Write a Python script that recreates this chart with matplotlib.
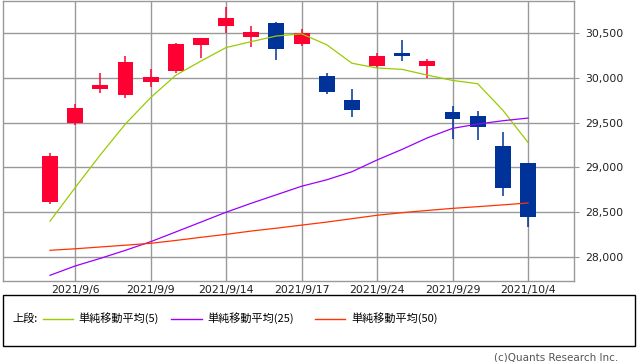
import matplotlib
matplotlib.use("Agg")
import matplotlib.pyplot as plt
from matplotlib.lines import Line2D
from matplotlib.patches import Rectangle

plt.rcParams["font.family"] = ["DejaVu Sans", "Noto Sans CJK JP"]

# daily candles (Nikkei 225)
dates = ["2021/9/3", "2021/9/6", "2021/9/7", "2021/9/8", "2021/9/9", "2021/9/10",
         "2021/9/13", "2021/9/14", "2021/9/15", "2021/9/16", "2021/9/17",
         "2021/9/21", "2021/9/22", "2021/9/24", "2021/9/27", "2021/9/28",
         "2021/9/29", "2021/9/30", "2021/10/1", "2021/10/4"]
opens = [28610, 29500, 29880, 29808, 29957, 30079, 30370, 30581, 30459, 30612,
         30381, 30020, 29752, 30135, 30280, 30135, 29618, 29574, 29239, 29049]
highs = [29160, 29705, 30055, 30247, 30098, 30388, 30450, 30796, 30578, 30623,
         30545, 30054, 29875, 30273, 30422, 30210, 29685, 29630, 29392, 29049]
lows = [28596, 29468, 29836, 29775, 29897, 30057, 30225, 30500, 30347, 30202,
        30358, 29819, 29563, 30106, 30188, 29998, 29320, 29306, 28680, 28335]
closes = [29128, 29660, 29916, 30181, 30008, 30382, 30447, 30670, 30512, 30323,
          30500, 29840, 29639, 30249, 30240, 30184, 29544, 29453, 28771, 28445]

sma5 = [28400, 28774, 29140, 29486, 29779, 30029, 30187, 30338, 30404, 30467,
        30491, 30369, 30163, 30110, 30094, 30030, 29971, 29934, 29638, 29279]
sma25 = [27796, 27900, 27985, 28075, 28171, 28280, 28390, 28500, 28600, 28695,
         28790, 28862, 28952, 29083, 29202, 29330, 29436, 29484, 29521, 29551]
sma50 = [28075, 28092, 28112, 28132, 28153, 28185, 28220, 28253, 28290, 28322,
         28356, 28390, 28428, 28466, 28495, 28520, 28543, 28562, 28582, 28603]

tick_dates = ["2021/9/6", "2021/9/9", "2021/9/14", "2021/9/17", "2021/9/24",
              "2021/9/29", "2021/10/4"]
y_ticks = [28000, 28500, 29000, 29500, 30000, 30500]

ma_labels = ["単純移動平均(5)", "単純移動平均(25)", "単純移動平均(50)"]
ma_colors = ["#99cc00", "#9900ff", "#ff3300"]

W, H = 638, 362


def fx(px):
    return px / W


def fy(py):
    return 1 - py / H


fig = plt.figure(figsize=(W / 100, H / 100), dpi=100)
ax = fig.add_axes([fx(3.3), fy(280.5), fx(574.3 - 3.3), (280.5 - 0.5) / H])

grid_c = "#999999"
x = list(range(len(dates)))
tick_pos = [dates.index(d) for d in tick_dates]
for p in tick_pos:
    ax.axvline(p, color=grid_c, lw=1, zorder=0)
for v in y_ticks:
    ax.axhline(v, color=grid_c, lw=1, zorder=0)

up_c, down_c = "#ff0033", "#003399"
cols = [up_c if c >= o else down_c for o, c in zip(opens, closes)]
ax.vlines(x, lows, highs, colors=cols, lw=1.1, zorder=2)
ax.bar(x, [abs(c - o) for o, c in zip(opens, closes)],
       bottom=[min(o, c) for o, c in zip(opens, closes)],
       width=0.63, color=cols, zorder=3, linewidth=0)

for vals, col in zip([sma5, sma25, sma50], ma_colors):
    ax.plot(x, vals, color=col, lw=0.9, zorder=4)

ax.set_xlim(-1.856, 20.84)
ax.set_ylim(27738, 30863)
ax.set_xticks(tick_pos)
ax.set_xticklabels(tick_dates)
ax.set_yticks(y_ticks)
ax.set_yticklabels([f"{v:,}" for v in y_ticks])
ax.yaxis.tick_right()
ax.tick_params(axis="y", length=3.6, color=grid_c, width=0.8, pad=4,
               labelsize=7.8, labelcolor="#222222")
ax.tick_params(axis="x", length=0, pad=3.5, labelsize=7.8, labelcolor="#222222")
for s in ax.spines.values():
    s.set_color(grid_c)
    s.set_linewidth(1)

# legend box
fig.patches.append(Rectangle((fx(3.3), fy(346)), fx(634.7 - 3.3), (346 - 295.3) / H,
                             transform=fig.transFigure, fill=False,
                             edgecolor="black", lw=1))
ly = fy(318.5)
fig.text(fx(12), ly, "上段:", fontsize=8, va="center",
         family=["Noto Sans CJK JP", "DejaVu Sans"])
line_x = [(43, 73), (171, 202), (315, 345)]
text_x = [78, 207, 351]
for (x0, x1), tx, lab, col in zip(line_x, text_x, ma_labels, ma_colors):
    fig.add_artist(Line2D([fx(x0), fx(x1)], [ly, ly], color=col, lw=1,
                          transform=fig.transFigure))
    fig.text(fx(tx), ly, lab, fontsize=8, va="center",
             family=["Noto Sans CJK JP", "DejaVu Sans"])

fig.text(fx(618), fy(357), "(c)Quants Research Inc.", fontsize=7.5,
         ha="right", va="center", color="#555555")

fig.savefig("out.png", dpi=100)
